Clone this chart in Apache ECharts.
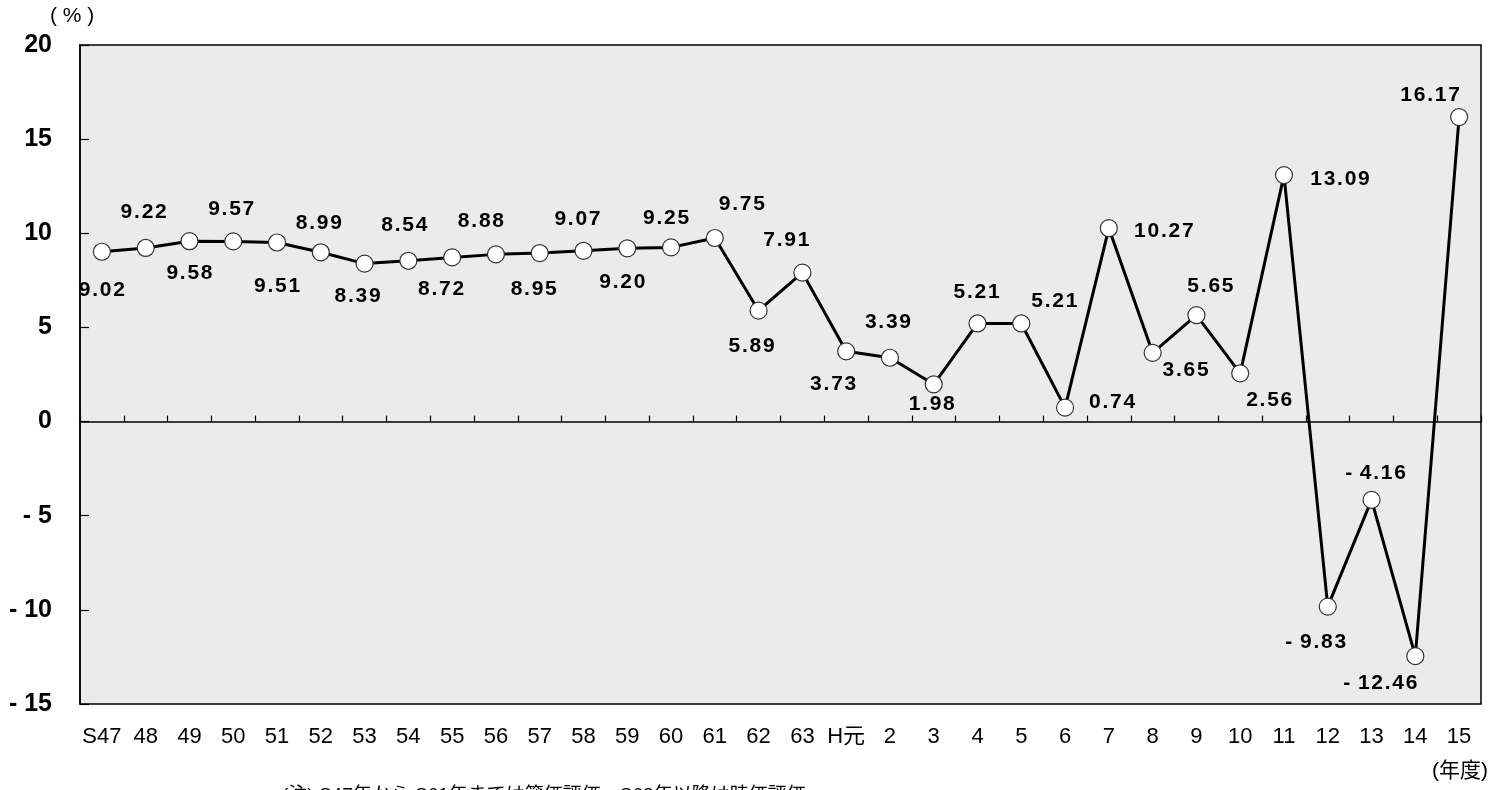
<!DOCTYPE html>
<html>
<head>
<meta charset="utf-8">
<script src="https://cdn.jsdelivr.net/npm/echarts@6/dist/echarts.min.js"></script>
<style>
  html, body { margin: 0; padding: 0; background: #ffffff; }
  #chart { width: 1502px; height: 790px; }
</style>
</head>
<body>
<div id="chart"></div>
<script>
// Fiscal years (Showa S47–S63, Heisei H元–15)
const years = ['S47','48','49','50','51','52','53','54','55','56','57','58','59','60','61','62','63',
               'H元','2','3','4','5','6','7','8','9','10','11','12','13','14','15'];

// Yield (%) per fiscal year
const rates = [9.02, 9.22, 9.58, 9.57, 9.51, 8.99, 8.39, 8.54, 8.72, 8.88, 8.95, 9.07, 9.20, 9.25, 9.75,
               5.89, 7.91, 3.73, 3.39, 1.98, 5.21, 5.21, 0.74, 10.27, 3.65, 5.65, 2.56, 13.09,
               -9.83, -4.16, -12.46, 16.17];

// Y axis range and step
const yMin = -15, yMax = 20, yStep = 5;

// Label placement around each marker (pixels, relative to the marker centre)
const labelOffsets = [
  [0, 38], [-2, -36], [0, 32], [-2, -32], [0, 44], [-2, -29], [-7, 33], [-4, -36],
  [-11, 32], [-15, -33], [-6, 36], [-6, -32], [-5, 34], [-5, -29], [27, -34],
  [-7, 36], [-16, -32], [-13, 33], [-2, -36], [-2, 20], [-1, -31], [33, -22],
  [47, -5], [55, 3], [33, 17], [14, -29], [29, 27], [56, 4],
  [-12, 36], [4, -27], [-35, 27], [-29, -22]
];

const LATIN = '"Liberation Sans", Arial, sans-serif';
const CJK = '"Liberation Sans", "Noto Sans CJK JP", sans-serif';

// widen digit spacing a little, like the printed figures
const spaced = s => s.split('').join('\u200A');

const chart = echarts.init(document.getElementById('chart'), null, { renderer: 'canvas' });

chart.setOption({
  backgroundColor: '#ffffff',
  animation: false,
  grid: {
    left: 80, right: 21, top: 45, bottom: 86,
    containLabel: false,
    outerBoundsMode: 'none',
    show: true,
    backgroundColor: '#ebebeb',
    borderColor: '#000000',
    borderWidth: 1.5
  },
  xAxis: [
    {
      // year labels along the bottom frame
      type: 'category',
      data: years,
      boundaryGap: true,
      position: 'bottom',
      axisLine: { show: false, onZero: false },
      axisTick: { show: false },
      axisLabel: {
        interval: 0,
        margin: 22,
        color: '#000000',
        fontFamily: CJK,
        fontSize: 22
      },
      splitLine: { show: false }
    },
    {
      // zero baseline with upward ticks between years
      type: 'category',
      data: years,
      boundaryGap: true,
      position: 'top',
      axisLine: { show: true, onZero: true, lineStyle: { color: '#000000', width: 1.5 } },
      axisTick: { show: true, inside: false, length: 6, lineStyle: { color: '#000000', width: 1.2 } },
      axisLabel: { show: false },
      splitLine: { show: false }
    }
  ],
  yAxis: {
    type: 'value',
    min: yMin, max: yMax, interval: yStep,
    axisLine: { show: true, onZero: false, lineStyle: { color: '#000000', width: 1.5 } },
    axisTick: { show: true, inside: true, length: 9, lineStyle: { color: '#000000', width: 1.2 } },
    axisLabel: {
      margin: 28,
      color: '#000000',
      fontFamily: LATIN,
      fontWeight: 'bold',
      fontSize: 25,
      formatter: v => (v < 0 ? '- ' + Math.abs(v) : String(v))
    },
    splitLine: { show: false }
  },
  series: [{
    type: 'line',
    xAxisIndex: 0,
    data: rates.map((v, i) => ({
      value: v,
      label: { offset: labelOffsets[i] }
    })),
    symbol: 'circle',
    symbolSize: 17,
    lineStyle: { color: '#000000', width: 3 },
    itemStyle: { color: '#ffffff', borderColor: '#333333', borderWidth: 1.2 },
    label: {
      show: true,
      position: 'inside',
      align: 'center',
      verticalAlign: 'middle',
      color: '#000000',
      fontFamily: LATIN,
      fontWeight: 'bold',
      fontSize: 21,
      formatter: p => spaced((p.value < 0 ? '-\u2009' : '') + Math.abs(p.value).toFixed(2))
    },
    z: 3
  }],
  graphic: [
    {
      type: 'text', left: 50, top: 6,
      style: { text: '( % )', font: '21px ' + LATIN, fill: '#000000' }
    },
    {
      type: 'text', left: 1432, top: 761,
      style: { text: '(年度)', font: '21px ' + CJK, fill: '#000000' }
    },
    {
      type: 'text', left: 282, top: 786,
      style: { text: '(注) S47年から S61年までは簿価評価、S62年以降は時価評価', font: '19px ' + CJK, fill: '#000000' }
    }
  ]
});
</script>
</body>
</html>
